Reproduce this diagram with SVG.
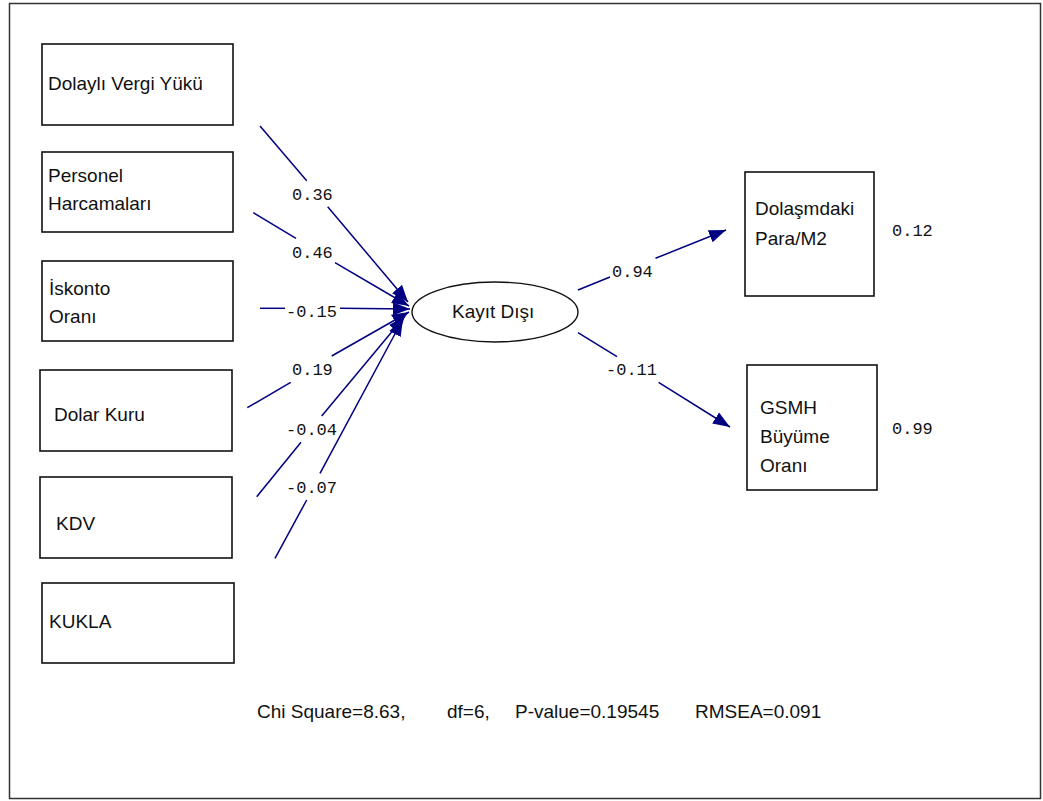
<svg xmlns="http://www.w3.org/2000/svg" width="1043" height="801" viewBox="0 0 1043 801">
<style>
.box{fill:#fff;stroke:#111;stroke-width:1.6}
.lbl{font-family:"Liberation Sans",Arial,sans-serif;font-size:19px;fill:#111}
.coef{font-family:"Liberation Mono","Courier New",monospace;font-size:17px;fill:#111}
.ln{fill:none;stroke:#000080;stroke-width:1.5}
</style>
<defs>
<marker id="ah" markerUnits="userSpaceOnUse" markerWidth="20" markerHeight="14" refX="17" refY="7" orient="auto">
<path d="M0,0.5 L17,7 L0,13.5 z" fill="#000080"/>
</marker>
</defs>
<rect x="9.5" y="3.5" width="1031" height="795" fill="#fff" stroke="#333" stroke-width="1.5"/>

<g id="node-dolayli">
<rect class="box" x="42" y="44" width="191" height="81"/>
<text class="lbl" x="48" y="90">Dolaylı Vergi Yükü</text>
</g>
<g id="node-personel">
<rect class="box" x="42" y="152" width="191" height="80"/>
<text class="lbl" x="48" y="182">Personel</text>
<text class="lbl" x="48" y="210">Harcamaları</text>
</g>
<g id="node-iskonto">
<rect class="box" x="42" y="261" width="191" height="80"/>
<text class="lbl" x="49" y="295">İskonto</text>
<text class="lbl" x="49" y="323">Oranı</text>
</g>
<g id="node-dolar">
<rect class="box" x="40" y="370" width="192" height="81"/>
<text class="lbl" x="54" y="421">Dolar Kuru</text>
</g>
<g id="node-kdv">
<rect class="box" x="40" y="477" width="192" height="81"/>
<text class="lbl" x="56" y="530">KDV</text>
</g>
<g id="node-kukla">
<rect class="box" x="42" y="583" width="192" height="80"/>
<text class="lbl" x="49" y="628">KUKLA</text>
</g>
<g id="node-kayit">
<ellipse cx="495" cy="312" rx="83" ry="30" fill="#fff" stroke="#111" stroke-width="1.4"/>
<text class="lbl" x="452" y="318">Kayıt Dışı</text>
</g>
<g id="node-dolasim">
<rect class="box" x="745" y="172" width="129" height="124"/>
<text class="lbl" x="755" y="215">Dolaşmdaki</text>
<text class="lbl" x="755" y="245">Para/M2</text>
</g>
<g id="node-gsmh">
<rect class="box" x="747" y="365" width="130" height="125"/>
<text class="lbl" x="760" y="414">GSMH</text>
<text class="lbl" x="760" y="443">Büyüme</text>
<text class="lbl" x="760" y="472">Oranı</text>
</g>

<g id="connectors">
<line class="ln" x1="260" y1="126" x2="306.7" y2="180.7"/>
<line class="ln" x1="327.7" y1="206.7" x2="408" y2="302" marker-end="url(#ah)"/>
<line class="ln" x1="253.3" y1="212.7" x2="296" y2="238.3"/>
<line class="ln" x1="335" y1="262.7" x2="409" y2="306" marker-end="url(#ah)"/>
<line class="ln" x1="260" y1="308.3" x2="285" y2="308.3"/>
<line class="ln" x1="340" y1="308.3" x2="410" y2="309" marker-end="url(#ah)"/>
<line class="ln" x1="247.3" y1="407.7" x2="290.7" y2="382.3"/>
<line class="ln" x1="331.7" y1="356" x2="409" y2="312" marker-end="url(#ah)"/>
<line class="ln" x1="256.7" y1="496.7" x2="301" y2="442.3"/>
<line class="ln" x1="321.7" y1="416" x2="405" y2="316" marker-end="url(#ah)"/>
<line class="ln" x1="275" y1="558.3" x2="306.7" y2="500"/>
<line class="ln" x1="320" y1="473.3" x2="403" y2="319" marker-end="url(#ah)"/>
<line class="ln" x1="578" y1="290" x2="610" y2="277"/>
<line class="ln" x1="655.5" y1="258.3" x2="726" y2="230" marker-end="url(#ah)"/>
<line class="ln" x1="578" y1="332.7" x2="617" y2="356.7"/>
<line class="ln" x1="658.6" y1="382.3" x2="730" y2="427" marker-end="url(#ah)"/>
</g>

<g id="coefficients">
<text class="coef" x="292" y="200">0.36</text>
<text class="coef" x="292" y="258">0.46</text>
<text class="coef" x="286" y="317">-0.15</text>
<text class="coef" x="292" y="375">0.19</text>
<text class="coef" x="286" y="435">-0.04</text>
<text class="coef" x="286" y="493">-0.07</text>
<text class="coef" x="612" y="277">0.94</text>
<text class="coef" x="606" y="375">-0.11</text>
<text class="coef" x="892" y="236">0.12</text>
<text class="coef" x="892" y="434">0.99</text>
</g>

<text class="lbl" y="718"><tspan x="257">Chi Square=8.63,</tspan><tspan x="447">df=6,</tspan><tspan x="515">P-value=0.19545</tspan><tspan x="695">RMSEA=0.091</tspan></text>
</svg>
